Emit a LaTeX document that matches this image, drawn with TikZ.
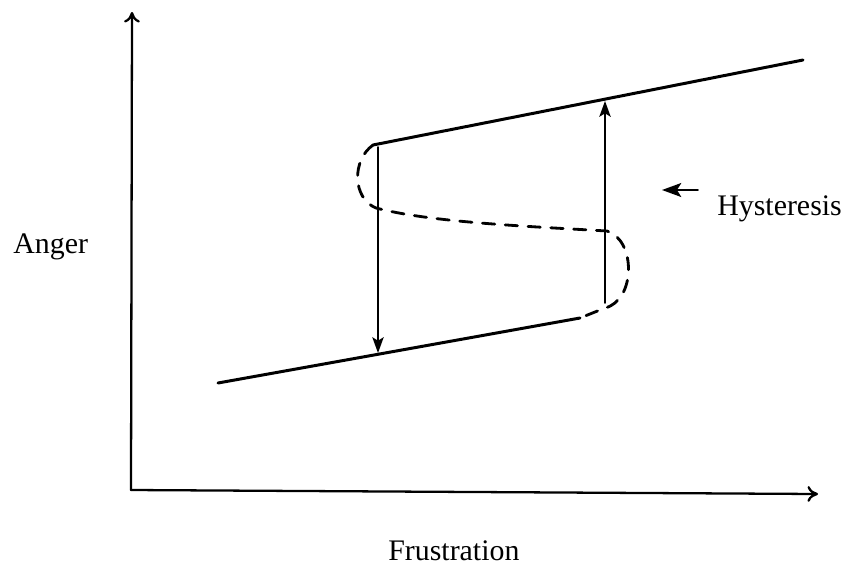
\documentclass[tikz,border=0pt]{standalone}
\usepackage{fontspec}
\setmainfont{Liberation Serif}
\usetikzlibrary{arrows.meta}

\tikzset{
  axis/.style={line width=1.3pt, -{To[length=6pt,width=9pt]}},
  branch/.style={line width=1.7pt},
  jump/.style={line width=0.9pt, -{Stealth[length=9pt,width=6.5pt,inset=2pt]}},
  unstable/.style={line width=1.6pt, dash pattern=on 7pt off 6pt}
}

\begin{document}
\begin{tikzpicture}[x=0.02cm, y=-0.02cm, line cap=round, every node/.append style={font=\fontsize{17}{20}\selectfont, inner sep=0pt}]
  \useasboundingbox (0,0) rectangle (848,572);
  % ejes
  \coordinate (O) at (131,490);
  \coordinate (xend) at (818,494);
  \coordinate (yend) at (132,12);
  \draw[axis] (O) -- (xend);
  \draw[axis] (O) -- (yend);
  \node[anchor=base west] (anger) at (13,253) {Anger};
  \node[anchor=base west] (frus) at (388,560) {Frustration};
  % ramas
  \coordinate (ua) at (373,145);
  \coordinate (ub) at (803,60);
  \coordinate (la) at (218,383);
  \coordinate (lb) at (580,318);
  \draw[branch] (ua) -- (ub);
  \draw[branch] (la) -- (lb);
  % rama inestable
  \coordinate (ca) at (376,208);
  \coordinate (cb) at (607,231);
  \coordinate (cc) at (605,308);
  \draw[unstable] (ua) .. controls (352,160) and (352,198) .. (ca)
    .. controls (430,222) and (520,226) .. (cb)
    .. controls (636,240) and (636,300) .. (cc) -- (lb);
  % saltos
  \coordinate (dtop) at (378,147);
  \coordinate (dbot) at (378,353);
  \coordinate (ubot) at (605,303);
  \coordinate (utop) at (605,101);
  \draw[jump] (dtop) -- (dbot);
  \draw[jump] (ubot) -- (utop);
  % histeresis
  \node[anchor=base west] (hys) at (717,215) {Hysteresis};
  \coordinate (htail) at (698,190);
  \coordinate (htip) at (662,190);
  \draw[line width=0.9pt, -{Stealth[length=11pt,width=8pt,inset=2.5pt]}] (htail) -- (htip);
\end{tikzpicture}
\end{document}
